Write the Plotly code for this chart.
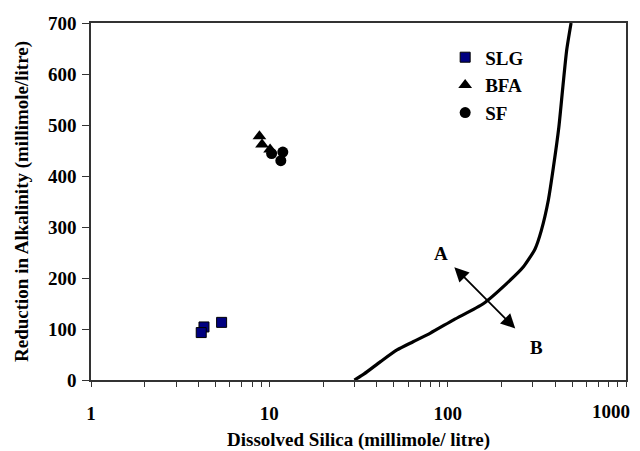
import numpy as np
import plotly.graph_objects as go

# Data
slg_x = [4.3, 4.15, 5.4]
slg_y = [104, 93, 113]
bfa_x = [8.8, 9.1, 10.1]
bfa_y = [478, 462, 452]
sf_x = [10.3, 11.9, 11.6]
sf_y = [444, 447, 430]

curve_x = [30, 34, 42, 52, 64, 80, 108, 159, 214, 266, 309, 335, 367, 392, 420, 442, 465, 492]
curve_y = [0, 12, 36, 59, 75, 92, 118, 150, 189, 222, 257, 293, 353, 418, 495, 573, 647, 700]

arrow_a = (109, 221)
arrow_b = (244, 98)
label_a = (92, 249)
label_b = (316, 64)

x_ticks = [1, 10, 100, 1000]
x_minor = [m * d for d in (1, 10, 100) for m in range(2, 10)]
y_ticks = list(range(0, 701, 100))

FONT = "Liberation Serif, Times New Roman, serif"
FS = 19

fig = go.Figure()
fig.add_trace(go.Scatter(x=curve_x, y=curve_y, mode="lines",
                         line=dict(color="black", width=3.2, shape="spline", smoothing=0.6),
                         showlegend=False, hoverinfo="skip"))
fig.add_trace(go.Scatter(x=slg_x, y=slg_y, mode="markers", name="<b>SLG</b>",
                         legendgroup="a",
                         marker=dict(symbol="square", size=10, color="#000080",
                                     line=dict(color="black", width=1))))
fig.add_trace(go.Scatter(x=bfa_x, y=bfa_y, mode="markers", name="<b>BFA</b>",
                         legendgroup="b",
                         marker=dict(symbol="triangle-up", size=12, color="black")))
fig.add_trace(go.Scatter(x=sf_x, y=sf_y, mode="markers", name="<b>SF</b>",
                         legendgroup="c",
                         marker=dict(symbol="circle", size=11, color="black")))

# double headed arrow
fig.add_annotation(x=np.log10(arrow_a[0]), y=arrow_a[1],
                   ax=np.log10(arrow_b[0]), ay=arrow_b[1],
                   xref="x", yref="y", axref="x", ayref="y",
                   showarrow=True, arrowhead=2, startarrowhead=2,
                   arrowside="end+start", arrowsize=1.6, startarrowsize=1.6,
                   arrowwidth=1.8, arrowcolor="black", text="",
                   standoff=0, startstandoff=0)
fig.add_annotation(x=np.log10(label_a[0]), y=label_a[1], text="<b>A</b>",
                   showarrow=False, font=dict(family=FONT, size=FS, color="black"))
fig.add_annotation(x=np.log10(label_b[0]), y=label_b[1], text="<b>B</b>",
                   showarrow=False, font=dict(family=FONT, size=FS, color="black"))

# last x tick label, pulled inside the figure so it is not cut off
fig.add_annotation(x=np.log10(x_ticks[-1]), y=0, xref="x", yref="y",
                   text=f"<b>{x_ticks[-1]}</b>", showarrow=False,
                   xanchor="right", yanchor="top", xshift=6, yshift=-19,
                   font=dict(family=FONT, size=FS, color="black"))

fig.update_layout(
    width=640, height=451,
    margin=dict(l=91, r=14, t=23, b=71),
    paper_bgcolor="white", plot_bgcolor="white",
    font=dict(family=FONT, size=FS, color="black"),
    showlegend=True,
    legend=dict(x=0.662, y=0.957, xanchor="left", yanchor="top",
                bgcolor="rgba(0,0,0,0)", tracegroupgap=0,
                font=dict(family=FONT, size=FS, color="black")),
    xaxis=dict(type="log", range=[0, 3], tickvals=x_ticks,
               ticktext=[f"<b>{v}</b>" for v in x_ticks[:-1]] + [""],
               automargin=False,
               ticks="outside", ticklen=5, tickwidth=1, tickcolor="#333",
               minor=dict(tickvals=x_minor, ticks="outside", ticklen=5,
                          tickwidth=1, tickcolor="#333", showgrid=False),
               showgrid=False, zeroline=False,
               showline=True, linecolor="#333", linewidth=1.5, mirror=True,
               ticklabelstandoff=10,
               title=dict(text="<b>Dissolved Silica (millimole/ litre)</b>",
                          font=dict(family=FONT, size=FS), standoff=18)),
    yaxis=dict(range=[0, 700], tickvals=y_ticks,
               ticktext=[f"<b>{v}</b>" for v in y_ticks],
               automargin=False,
               ticks="outside", ticklen=7, tickwidth=1, tickcolor="#333",
               showgrid=False, zeroline=False,
               showline=True, linecolor="#333", linewidth=1.5, mirror=True,
               ticklabelstandoff=2,
               title=dict(text="<b>Reduction in Alkalinity (millimole/litre)</b>",
                          font=dict(family=FONT, size=FS), standoff=14)),
)

fig.write_html("out.html")
